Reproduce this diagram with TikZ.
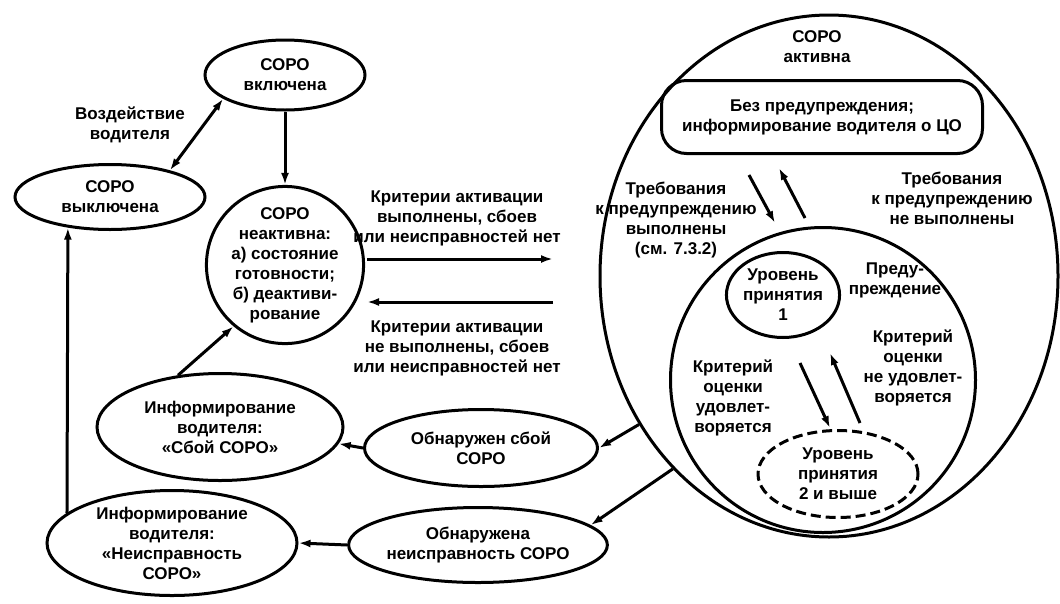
\documentclass[tikz,border=0pt]{standalone}
\usepackage{fontspec}
\setmainfont{Liberation Sans}
\usetikzlibrary{shapes.geometric,arrows.meta}
\begin{document}
\begin{tikzpicture}[x=1pt,y=-1pt,
  every node/.style={align=center,font=\fontsize{17}{20}\selectfont\bfseries},
  oval/.style={draw,ellipse,line width=3pt,inner sep=0pt},
  arr/.style={-{Latex[length=12pt,width=8pt]},line width=3pt},
  dblarr/.style={{Latex[length=12pt,width=8pt]}-{Latex[length=12pt,width=8pt]},line width=3pt}]
\useasboundingbox (0,0) rectangle (1060,603);
\def\mx{457}
\node[oval,minimum width=160,minimum height=70] (on) at (285,75) {СОРО\\включена};
\node[oval,minimum width=190,minimum height=65] (off) at (110,197) {СОРО\\выключена};
\node (drv) at (130,125) {Воздействие\\водителя};
\node[oval,circle,minimum size=156] (inact) at (285,265) {СОРО\\неактивна:\\а) состояние\\готовности;\\б) деактиви-\\рование};
\node[oval,minimum width=246,minimum height=107] (info1) at (220,427) {Информирование\\водителя:\\«Сбой СОРО»};
\node[oval,minimum width=250,minimum height=105] (info2) at (172,543) {Информирование\\водителя:\\«Неисправность\\СОРО»};
\node[oval,minimum width=233,minimum height=77] (fail) at (481,448) {Обнаружен сбой\\СОРО};
\node[oval,minimum width=240,minimum height=75] (fault) at (478,545) {Обнаружена\\неисправность СОРО};
\node (crit1) at (\mx,218) {Критерии активации\\выполнены, сбоев\\или неисправностей нет};
\node (crit2) at (\mx,348) {Критерии активации\\не выполнены, сбоев\\или неисправностей нет};
\coordinate (m1) at (367,259);
\coordinate (m2) at (553,259);
\coordinate (m3) at (553,302);
\coordinate (m4) at (367,302);
\node[oval,minimum width=458,minimum height=522] (act) at (829,276) {};
\node (title) at (817,47) {СОРО\\активна};
\node[draw,line width=3pt,rounded corners=25pt,minimum width=321,minimum height=73] (none) at (822,117) {Без предупреждения;\\информирование водителя о ЦО};
\node (req1) at (676,220) {Требования\\к предупреждению\\выполнены\\(см. 7.3.2)};
\node (req2) at (952,198) {Требования\\к предупреждению\\не выполнены};
\node[oval,circle,minimum size=305] (warn) at (823,380) {};
\node (wlbl) at (895,280) {Преду-\\преждение};
\node[oval,minimum width=113,minimum height=85] (lvl1) at (783,295) {Уровень\\принятия\\1};
\node[oval,dash pattern=on 10pt off 5pt,minimum width=160,minimum height=87] (lvl2) at (838,474) {Уровень\\принятия\\2 и выше};
\node (crit3) at (913,368) {Критерий\\оценки\\не удовлет-\\воряется};
\node (crit4) at (733,398) {Критерий\\оценки\\удовлет-\\воряется};
\coordinate (a1) at (749,175);
\coordinate (a2) at (775,223);
\coordinate (a3) at (805,218);
\coordinate (a4) at (779,168);
\coordinate (b1) at (800,363);
\coordinate (b2) at (830,428);
\coordinate (b3) at (860,423);
\coordinate (b4) at (830,353);
\draw[dblarr] (on.201) -- (off.24);
\draw[arr] (on) -- (inact);
\draw[arr] (m1) -- (m2);
\draw[arr] (m3) -- (m4);
\draw[arr] (info1.129) -- (inact.230);
\draw[arr] (info2.164) -- (off.216);
\draw[arr] (act.218) -- (fail.east);
\draw[arr] (act.231) -- (fault.10);
\draw[arr] (fail.west) -- (info1.-8);
\draw[arr] (fault.west) -- (info2.east);
\draw[arr] (a1) -- (a2);
\draw[arr] (a3) -- (a4);
\draw[arr] (b1) -- (b2);
\draw[arr] (b3) -- (b4);
\end{tikzpicture}
\end{document}
